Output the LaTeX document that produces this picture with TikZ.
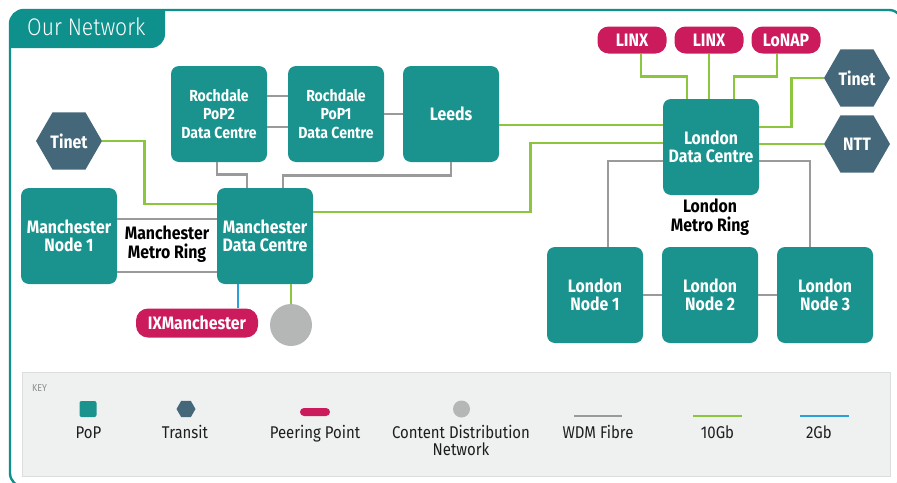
\documentclass[tikz,border=0pt]{standalone}
\usepackage{fontspec}
\setmainfont{Fira Sans}[FakeStretch=0.88]
\newfontfamily\lightfont{Fira Sans Light}[FakeStretch=0.88]
\usetikzlibrary{shapes.geometric,calc}
\definecolor{popc}{HTML}{1A938E}
\definecolor{framec}{HTML}{0E918C}
\definecolor{hexc}{HTML}{44687A}
\definecolor{pillc}{HTML}{CB1B5C}
\definecolor{tengb}{HTML}{8CC63F}
\definecolor{wdmc}{HTML}{9A9A9A}
\definecolor{twogb}{HTML}{2AA0DA}
\definecolor{cdnc}{HTML}{B5B7B7}
\definecolor{keyfill}{HTML}{EFF0F0}
\definecolor{keyline}{HTML}{DCDEDE}
\definecolor{keytext}{HTML}{1E1E1E}
\begin{document}
\begin{tikzpicture}[x=1pt,y=-1pt,
  boxfont/.style={font=\bfseries\fontsize{18}{18.5}\selectfont},
  smallboxfont/.style={font=\bfseries\fontsize{16}{18.7}\selectfont},
  pop/.style={boxfont, fill=popc, rounded corners=8pt, minimum width=96pt, minimum height=96pt, inner sep=0pt, text=white, align=center},
  hexnode/.style={boxfont, regular polygon, regular polygon sides=6, minimum size=66pt, inner sep=0pt, fill=hexc, text=white},
  pill/.style={boxfont, fill=pillc, rounded corners=11pt, minimum height=27pt, minimum width=69pt, inner sep=0pt, text=white},
  ringlabel/.style={boxfont, text=black, align=center},
  wdm/.style={draw=wdmc, line width=2.6pt},
  ten/.style={draw=tengb, line width=2.6pt},
  two/.style={draw=twogb, line width=2.6pt},
  keylabel/.style={font=\fontsize{17}{17}\selectfont, text=keytext, align=center, anchor=base}
]
\useasboundingbox (0,0) rectangle (897,482);
% frame
\draw[framec, line width=2.4pt, rounded corners=14pt] (10,10) rectangle (903,487);
\fill[framec] (10,48) -- (10,24) arc[start angle=180, end angle=270, radius=14] -- (165,10) -- (165,34) arc[start angle=0, end angle=90, radius=14] -- (151,48) -- cycle;
\node[anchor=base west, text=white, font=\lightfont\fontsize{24}{26}\selectfont, inner sep=0pt] (title) at (27,35) {Our Network};

\node[pop, smallboxfont] (rp2) at (219,114) {Rochdale\\PoP2\\Data Centre};
\node[pop, smallboxfont] (rp1) at (336,114) {Rochdale\\PoP1\\Data Centre};
\node[pop] (leeds) at (451,114) {Leeds};
\node[pop] (mn1) at (69,236) {Manchester\\Node 1};
\node[pop] (mdc) at (265,236) {Manchester\\Data Centre};
\node[pop] (ldc) at (711,147) {London\\Data Centre};
\node[pop] (ln1) at (595,295) {London\\Node 1};
\node[pop] (ln2) at (710,295) {London\\Node 2};
\node[pop] (ln3) at (825,295) {London\\Node 3};

\node[hexnode] (tl) at (69,141) {Tinet};
\node[hexnode] (tr) at (857,78) {Tinet};
\node[hexnode] (ntt) at (857,144) {NTT};

\node[pill] (linx1) at (632,40) {LINX};
\node[pill] (linx2) at (709,40) {LINX};
\node[pill] (lonap) at (786,40) {LoNAP};
\node[pill, minimum width=122pt, minimum height=29pt, rounded corners=12pt] (ixm) at (197,323) {IXManchester};
\node[circle, fill=cdnc, minimum size=42pt, inner sep=0pt] (cdn) at (291,325) {};

\node[ringlabel] (mring) at (167,244) {Manchester\\Metro Ring};
\node[ringlabel] (lring) at (710,217) {London\\Metro Ring};

% WDM fibre
\draw[wdm] ([yshift=18pt]rp2.east) -- ([yshift=18pt]rp1.west);
\draw[wdm] ([yshift=-13pt]rp2.east) -- ([yshift=-13pt]rp1.west);
\draw[wdm] (rp1.east) -- (leeds.west);
\draw[wdm] ([xshift=-2pt]rp2.south) -- ++(0,12) -| ([xshift=-18pt]mdc.north);
\draw[wdm] (leeds.south) -- ++(0,13) -| ([xshift=18pt]mdc.north);
\draw[wdm] ([yshift=17pt]mn1.east) -- ([yshift=17pt]mdc.west);
\draw[wdm] ([yshift=-36pt]mn1.east) -- ([yshift=-36pt]mdc.west);
\draw[wdm] ([yshift=-14pt]ldc.west) -| ([xshift=13pt]ln1.north);
\draw[wdm] ([yshift=-14pt]ldc.east) -| ([xshift=-15pt]ln3.north);
\draw[wdm] (ln1.east) -- (ln2.west);
\draw[wdm] (ln2.east) -- (ln3.west);

% 10Gb
\draw[ten] (tl.east) -- ++(42,0) |- ([yshift=32pt]mdc.west);
\draw[ten] ([yshift=24pt]mdc.east) -- ++(217,0) |- ([yshift=4pt]ldc.west);
\draw[ten] ([yshift=-11pt]leeds.east) -- ([yshift=22pt]ldc.west);
\draw[ten] ([xshift=9pt]linx1.south) -- ++(0,23) -| ([xshift=-24pt]ldc.north);
\draw[ten] (linx2.south) -- (linx2.south |- ldc.north);
\draw[ten] ([xshift=-9pt]lonap.south) -- ++(0,23) -| ([xshift=23pt]ldc.north);
\draw[ten] (tr.west) -- ++(-32,0) |- ([yshift=20pt]ldc.east);
\draw[ten] (ntt.west) -- (ntt.west -| ldc.east);
\draw[ten] (cdn.north) -- (cdn.north |- mdc.south);
% 2Gb
\path ([xshift=-27pt]mdc.south) coordinate (b1);
\draw[two] (b1) -- (b1 |- ixm.north);

% Key
\draw[fill=keyfill, draw=keyline, line width=0.8pt] (22,372) rectangle (890,476);
\node[anchor=base west, inner sep=0pt, text=black!45, font=\fontsize{10}{10}\selectfont] (keyt) at (32,391) {KEY};
\node[fill=popc, rounded corners=2pt, minimum width=17pt, minimum height=16pt, inner sep=0pt] (kpop) at (88,409) {};
\node[regular polygon, regular polygon sides=6, minimum size=19pt, inner sep=0pt, fill=hexc] (khex) at (186,409) {};
\node[fill=pillc, rounded corners=4pt, minimum width=30pt, minimum height=8pt, inner sep=0pt] (kpill) at (315,412) {};
\node[circle, fill=cdnc, minimum size=17pt, inner sep=0pt] (kcdn) at (461.5,409) {};
\coordinate (kw1) at (574,416); \coordinate (kw2) at (622,416);
\draw[wdm] (kw1) -- (kw2);
\coordinate (kt1) at (693,416); \coordinate (kt2) at (742,416);
\draw[ten] (kt1) -- (kt2);
\coordinate (kb1) at (800,416); \coordinate (kb2) at (849,416);
\draw[two] (kb1) -- (kb2);
\node[keylabel] (lpop) at (88.5,438) {PoP};
\node[keylabel] (ltr) at (185,438) {Transit};
\node[keylabel] (lpp) at (315,438) {Peering Point};
\node[keylabel] (lcdn) at (461,455) {Content Distribution\\Network};
\node[keylabel] (lwdm) at (598,438) {WDM Fibre};
\node[keylabel] (l10) at (717.5,438) {10Gb};
\node[keylabel] (l2) at (819,438) {2Gb};
\end{tikzpicture}
\end{document}
